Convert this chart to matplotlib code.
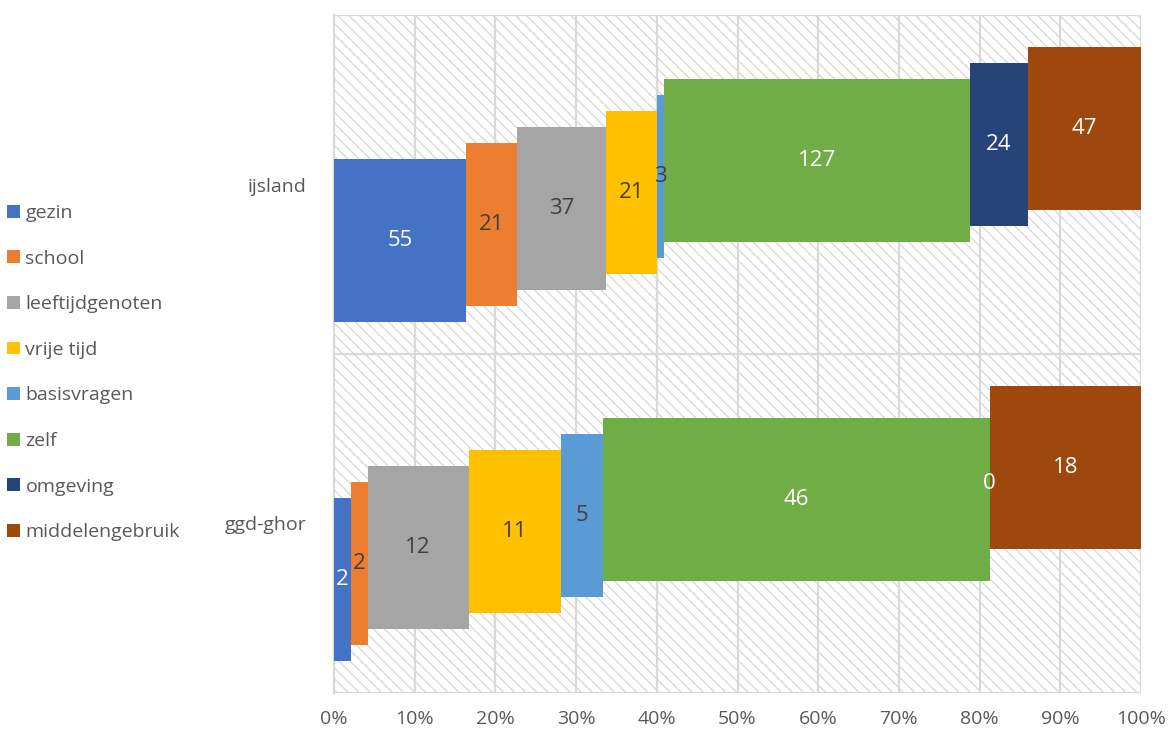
import numpy as np
import matplotlib.pyplot as plt
from matplotlib.patches import Rectangle

plt.rcParams['font.family'] = ['Open Sans', 'DejaVu Sans']
plt.rcParams['hatch.linewidth'] = 0.9

groups = ['ijsland', 'ggd-ghor']
series = ['gezin', 'school', 'leeftijdgenoten', 'vrije tijd', 'basisvragen',
          'zelf', 'omgeving', 'middelengebruik']
counts = {
    'ijsland':  [55, 21, 37, 21, 3, 127, 24, 47],
    'ggd-ghor': [2, 2, 12, 11, 5, 46, 0, 18],
}
colors = ['#4472C4', '#ED7D31', '#A5A5A5', '#FFC000', '#5B9BD5',
          '#70AD47', '#264478', '#9E480E']
label_colors = ['white', '#404040', '#404040', '#404040', '#404040',
                'white', 'white', 'white']

grey = '#595959'
bar_h = 0.478
step = 0.0472

fig = plt.figure(figsize=(11.68, 7.33), dpi=100)
ax = fig.add_axes([334 / 1168, 40 / 733, 807 / 1168, 678 / 733])

# hatched plot area
ax.add_patch(Rectangle((0, 0), 1, 1, transform=ax.transAxes, facecolor='white',
                       edgecolor='#d6d6d6', linewidth=0, hatch='\\' * 3, zorder=0))

mat = np.array([counts[g] for g in groups], dtype=float)
pct = mat / mat.sum(axis=1, keepdims=True) * 100
left = np.zeros(len(groups))
ypos = np.arange(len(groups))

for i, name in enumerate(series):
    y = ypos + (3.5 - i) * step
    bars = ax.barh(y, pct[:, i], left=left, height=bar_h, color=colors[i],
                   label=name, zorder=3)
    ax.bar_label(bars, labels=[str(int(v)) for v in mat[:, i]], label_type='center',
                 color=label_colors[i], fontsize=16, zorder=4)
    left += pct[:, i]

ax.set_xlim(0, 100)
ax.set_ylim(1.5, -0.5)
ax.set_xticks(np.arange(0, 101, 10))
ax.set_xticklabels([f'{v}%' for v in range(0, 101, 10)])
ax.set_yticks(ypos)
ax.set_yticklabels(groups)
ax.tick_params(axis='both', length=0, labelsize=14, colors=grey)
ax.tick_params(axis='x', pad=12)
ax.tick_params(axis='y', pad=20)

for v in range(10, 101, 10):
    ax.axvline(v, color='#d9d9d9', lw=1.6, zorder=1)
for v in [-0.5, 0.5, 1.5]:
    ax.axhline(v, color='#d9d9d9', lw=1.6, zorder=1)

for s in ['top', 'right', 'bottom']:
    ax.spines[s].set_visible(False)
ax.spines['left'].set_color('#d9d9d9')
ax.spines['left'].set_linewidth(1.6)

fig.legend(loc='upper left', bbox_to_anchor=(0.006, 1 - 204 / 733), frameon=False,
           fontsize=14, labelcolor=grey, handlelength=0.65, handleheight=0.65,
           handletextpad=0.3, labelspacing=1.42, borderpad=0, borderaxespad=0)

fig.savefig('out.png', dpi=100)
